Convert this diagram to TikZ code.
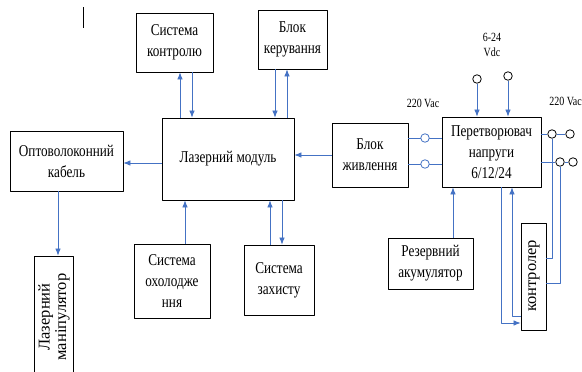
\documentclass[tikz,border=0pt]{standalone}
\usepackage{fontspec}
\setmainfont{Liberation Serif}[FakeStretch=0.8]
\newfontfamily\upserif{Liberation Serif}
\usetikzlibrary{arrows.meta}
\definecolor{wireblue}{RGB}{68,114,196}
\begin{document}
\begin{tikzpicture}[x=1pt, y=-1pt, line join=round, >={Latex[length=7pt,width=5.5pt]},
		box/.style={draw, line width=0.8pt, align=center, inner sep=1pt, font=\fontsize{16.5}{21}\selectfont},
		arr/.style={->, draw=wireblue, line width=0.75pt},
		wire/.style={draw=wireblue, line width=0.75pt},
		term/.style={circle, draw, line width=0.8pt, fill=white, minimum size=8.5pt, inner sep=0pt},
		lbl/.style={align=center, inner sep=0pt, font=\fontsize{12.5}{15}\selectfont},
		sidetxt/.style={align=center, inner sep=0pt, rotate=90, font=\upserif\fontsize{16.5}{16.5}\selectfont}]
		\useasboundingbox (0,0) rectangle (582,372);
		\draw[line width=0.6pt] (83,7)--(83,28);
		% blocks
		\node[box, minimum width=77, minimum height=59] (ctrl) at (174.5,42.5) {Система\\контролю};
		\node[box, minimum width=69, minimum height=59] (keru) at (292.5,39.5) {Блок\\керування};
		\node[box, minimum width=132, minimum height=82] (laser) at (228,159) {Лазерний модуль};
		\node[box, minimum width=113, minimum height=60] (cable) at (66.5,161) {Оптоволоконний\\кабель};
		\node[box, minimum width=39, minimum height=124] (manip) at (53.5,318) {};
		\node[sidetxt] (maniptxt) at (54,317) {Лазерний\\маніпулятор};
		\node[box, minimum width=76, minimum height=74] (cool) at (172,281) {Система\\охолодже\\ння};
		\node[box, minimum width=70, minimum height=70] (prot) at (279,280) {Система\\захисту};
		\node[box, minimum width=76, minimum height=64] (psu) at (370,155) {Блок\\живлення};
		\node[box, minimum width=99, minimum height=70] (conv) at (491.5,152) {Перетворювач\\напруги\\6/12/24};
		\node[box, minimum width=85, minimum height=51] (bat) at (430.5,263.5) {Резервний\\акумулятор};
		\node[box, minimum width=25, minimum height=107] (mcu) at (533.5,276.5) {};
		\node[sidetxt] (mcutxt) at (534,276) {контролер};
		% terminals and labels
		\node[lbl] (vac1) at (423,103) {220 Vac};
		\node[lbl, anchor=east] (vac2) at (582,101) {220 Vac};
		\node[lbl] (vdc) at (492,45) {6-24\\Vdc};
		\node[term] (t1) at (477,79) {};
		\node[term] (t2) at (508,76) {};
		\node[term] (t3) at (552,134) {};
		\node[term] (t4) at (570,134) {};
		\node[term] (t5) at (560,162) {};
		\node[term] (t6) at (573,162) {};
		% links to laser module
		\draw[arr] ([xshift=-48pt]laser.north)--([xshift=-48pt]laser.north |- ctrl.south);
		\draw[arr] ([xshift=-36pt]laser.north |- ctrl.south)--([xshift=-36pt]laser.north);
		\draw[arr] ([xshift=47pt]laser.north |- keru.south)--([xshift=47pt]laser.north);
		\draw[arr] ([xshift=59pt]laser.north)--([xshift=59pt]laser.north |- keru.south);
		\draw[arr] ([yshift=-4pt]laser.west)--([yshift=-4pt]laser.west -| cable.east);
		\draw[arr] ([xshift=-8.5pt]cable.south)--([xshift=-8.5pt]cable.south |- manip.north);
		\draw[arr] ([xshift=13pt]cool.north)--([xshift=13pt]cool.north |- laser.south);
		\draw[arr] ([xshift=-9pt]prot.north)--([xshift=-9pt]prot.north |- laser.south);
		\draw[arr] ([xshift=3pt]prot.north |- laser.south)--([xshift=3pt]prot.north);
		\draw[arr] (psu.west)--(psu.west -| laser.east);
		% power side
		\draw[wire] ([yshift=17pt]psu.east)--([yshift=17pt]psu.east -| conv.west) node[term, pos=0.5]{};
		\draw[wire] ([yshift=-9pt]psu.east)--([yshift=-9pt]psu.east -| conv.west) node[term, pos=0.5]{};
		\draw[arr] (t1)--(t1 |- conv.north);
		\draw[arr] (t2)--(t2 |- conv.north);
		\draw[wire] (t3 -| conv.east)--(t3) (t3)--(t4);
		\draw[wire] (t5 -| conv.east)--(t5) (t5)--(t6);
		\draw[wire] (t3)|-([yshift=18.5pt]mcu.east);
		\draw[wire] (t5)|-([yshift=-6.5pt]mcu.east);
		\draw[arr] ([xshift=22.5pt]bat.north)--([xshift=22.5pt]bat.north |- conv.south);
		\draw[arr] ([xshift=9.5pt]conv.south)|-([yshift=-46.5pt]mcu.west);
		\draw[arr] ([yshift=-39.5pt]mcu.west)-|([xshift=20.5pt]conv.south);
\end{tikzpicture}
\end{document}
